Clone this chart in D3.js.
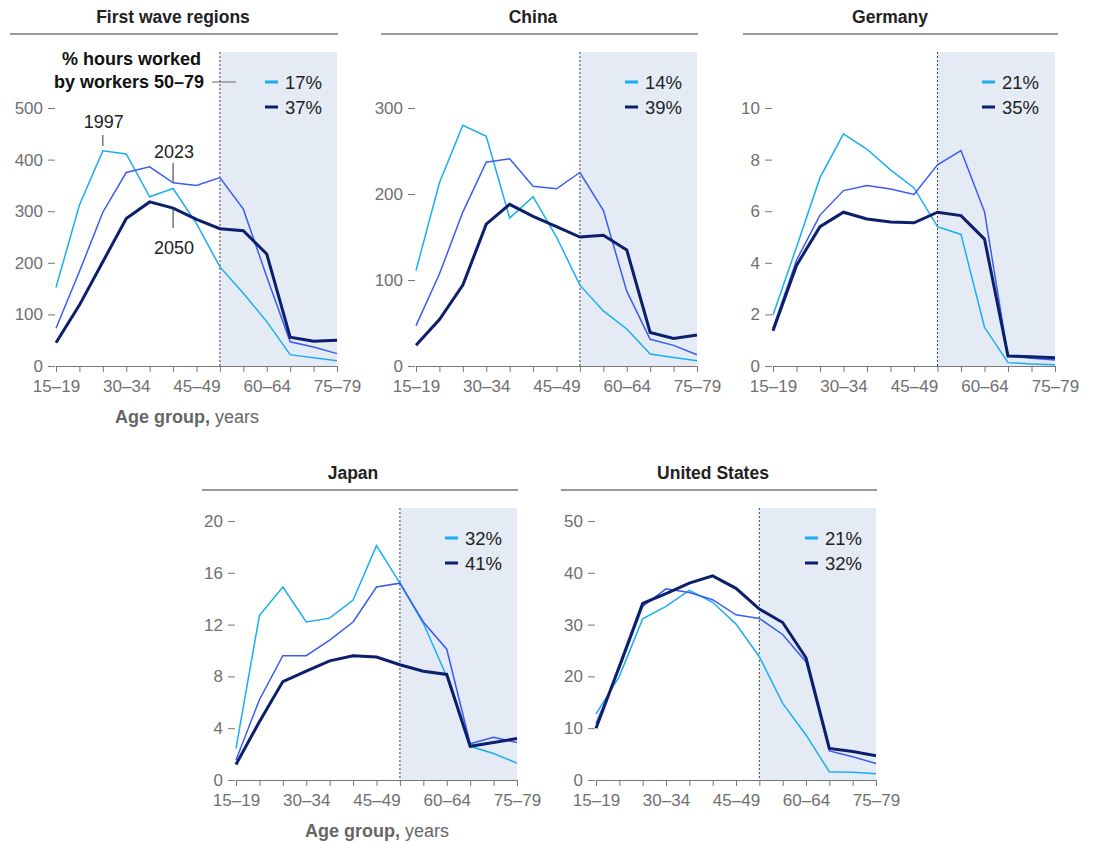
<!DOCTYPE html>
<html>
<head>
<meta charset="utf-8">
<script src="https://cdn.jsdelivr.net/npm/d3@7"></script>
<style>
  body { margin: 0; background: #fff; }
  text { font-family: "Liberation Sans", Arial, sans-serif; }
</style>
</head>
<body>
<script>
/* data */

var ageGroups = ['15–19', '20–24', '25–29', '30–34', '35–39', '40–44', '45–49',
  '50–54', '55–59', '60–64', '65–69', '70–74', '75–79'];
var tickAges = ['15–19', '30–34', '45–49', '60–64', '75–79'];
var years = ['1997', '2023', '2050'];

var firstWave1997 = [152, 312, 417, 411, 328, 344, 276, 192, 141, 86, 22, 16, 10];
var firstWave2023 = [73, 183, 298, 375, 386, 355, 350, 365, 304, 173, 47, 37, 24];
var firstWave2050 = [45, 118, 202, 286, 318, 306, 284, 266, 262, 217, 56, 48, 50];
var firstWaveTicks = [0, 100, 200, 300, 400, 500];
var firstWaveShares = ['17%', '37%'];

var china1997 = [111, 213, 280, 267, 172, 197, 150, 94, 64, 43, 14, 10, 6];
var china2023 = [47, 107, 179, 237, 241, 209, 206, 225, 181, 87, 31, 24, 13];
var china2050 = [24, 54, 94, 165, 188, 174, 162, 150, 152, 135, 39, 32, 36];
var chinaTicks = [0, 100, 200, 300];
var chinaShares = ['14%', '39%'];

var germany1997 = [1.98, 4.6, 7.3, 9.0, 8.4, 7.6, 6.9, 5.4, 5.1, 1.5, 0.13, 0.08, 0.05];
var germany2023 = [1.46, 4.1, 5.85, 6.8, 7.0, 6.86, 6.65, 7.8, 8.35, 5.98, 0.39, 0.3, 0.23];
var germany2050 = [1.37, 3.9, 5.4, 5.96, 5.7, 5.58, 5.55, 5.96, 5.83, 4.92, 0.39, 0.36, 0.32];
var germanyTicks = [0, 2, 4, 6, 8, 10];
var germanyShares = ['21%', '35%'];

var japan1997 = [2.45, 12.7, 14.9, 12.2, 12.5, 13.9, 18.1, 15.2, 12.1, 8.0, 2.6, 2.05, 1.3];
var japan2023 = [1.55, 6.2, 9.6, 9.6, 10.8, 12.2, 14.9, 15.2, 12.2, 10.1, 2.8, 3.3, 2.9];
var japan2050 = [1.2, 4.5, 7.6, 8.4, 9.2, 9.6, 9.5, 8.9, 8.4, 8.15, 2.6, 2.9, 3.2];
var japanTicks = [0, 4, 8, 12, 16, 20];
var japanShares = ['32%', '41%'];

var us1997 = [12.7, 20, 31.1, 33.5, 36.6, 34.3, 30.1, 23.8, 14.8, 8.7, 1.6, 1.5, 1.2];
var us2023 = [10.9, 21.5, 33.5, 36.9, 36.2, 34.8, 31.9, 31.2, 28.1, 22.8, 5.6, 4.5, 3.2];
var us2050 = [10, 21.9, 34.1, 36, 38, 39.4, 37, 33, 30.4, 23.6, 6.1, 5.5, 4.7];
var usTicks = [0, 10, 20, 30, 40, 50];
var usShares = ['21%', '32%'];


/* layout */

var width = 1093;
var height = 842;
var colours = { '1997': '#1aaef0', '2023': '#3a5cf2', '2050': '#0c1f6c' };
var strokeW = { '1997': 1.5, '2023': 1.5, '2050': 3 };
var shadeStart = '50–54';
var font = '"Liberation Sans", Arial, sans-serif';

// rows: rule line, top of shading, top tick, zero line
var topRow = { rule: 34, shade: 52, yTop: 108, yZero: 366 };
var bottomRow = { rule: 490, shade: 508, yTop: 521, yZero: 780 };

var panels = [
  { title: 'First wave regions', series: [firstWave1997, firstWave2023, firstWave2050], ticks: firstWaveTicks,
    shares: firstWaveShares, x0: 56, x1: 337, row: topRow, lineLeft: 10, axisTitle: true, titleStart: 115, notes: true },
  { title: 'China', series: [china1997, china2023, china2050], ticks: chinaTicks,
    shares: chinaShares, x0: 416, x1: 697, row: topRow, lineLeft: 381 },
  { title: 'Germany', series: [germany1997, germany2023, germany2050], ticks: germanyTicks,
    shares: germanyShares, x0: 773, x1: 1055, row: topRow, lineLeft: 743, lineRight: 1058 },
  { title: 'Japan', series: [japan1997, japan2023, japan2050], ticks: japanTicks,
    shares: japanShares, x0: 236, x1: 517, row: bottomRow, lineLeft: 202, axisTitle: true, titleStart: 305 },
  { title: 'United States', series: [us1997, us2023, us2050], ticks: usTicks,
    shares: usShares, x0: 596, x1: 876, row: bottomRow, lineLeft: 561 }
];

var svg = d3.select('body').append('svg')
  .attr('width', width)
  .attr('height', height);

panels.forEach(function (p) {
  var g = svg.append('g');
  var r = p.row;

  var x = d3.scalePoint().domain(ageGroups).range([p.x0, p.x1]);
  var y = d3.scaleLinear().domain([0, d3.max(p.ticks)]).range([r.yZero, r.yTop]);

  /* title + rule */
  g.append('text')
    .attr('x', p.x0 + 117)
    .attr('y', r.rule - 11)
    .attr('text-anchor', 'middle')
    .style('font-size', '17.5px')
    .style('font-weight', 'bold')
    .style('fill', '#222')
    .text(p.title);

  g.append('line')
    .attr('x1', p.lineLeft).attr('x2', p.lineRight || p.x1 + 1)
    .attr('y1', r.rule).attr('y2', r.rule)
    .attr('stroke', '#333').attr('stroke-width', 1.2);

  /* shaded 50-79 region */
  g.append('rect')
    .attr('x', x(shadeStart))
    .attr('y', r.shade)
    .attr('width', p.x1 - x(shadeStart))
    .attr('height', r.yZero - r.shade)
    .attr('fill', '#e4ebf4');

  g.append('line')
    .attr('x1', x(shadeStart)).attr('x2', x(shadeStart))
    .attr('y1', r.shade).attr('y2', r.yZero)
    .attr('stroke', '#444').attr('stroke-width', 1)
    .attr('stroke-dasharray', '2,2');

  /* y axis */
  var yAxis = d3.axisLeft(y).tickValues(p.ticks).tickSize(7).tickPadding(5);
  var ya = g.append('g')
    .attr('transform', 'translate(' + (p.x0 - 1) + ',0)')
    .call(yAxis);
  ya.select('.domain').remove();
  ya.selectAll('line').attr('stroke', '#777');
  ya.selectAll('text').style('font-size', '17px').style('fill', '#707070')
    .style('font-family', font);

  /* x axis */
  var xAxis = d3.axisBottom(x).tickSize(6).tickPadding(8).tickSizeOuter(0)
    .tickFormat(function (d) { return tickAges.indexOf(d) >= 0 ? d : ''; });
  var xa = g.append('g')
    .attr('transform', 'translate(0,' + r.yZero + ')')
    .call(xAxis);
  xa.select('.domain').attr('stroke', '#777');
  xa.selectAll('line').attr('stroke', '#777');
  xa.selectAll('text').style('font-size', '17px').style('fill', '#707070')
    .style('font-family', font);

  /* lines */
  var line = d3.line()
    .x(function (d, i) { return x(ageGroups[i]); })
    .y(function (d) { return y(d); });

  p.series.forEach(function (s, i) {
    g.append('path')
      .datum(s)
      .attr('d', line)
      .attr('fill', 'none')
      .attr('stroke', colours[years[i]])
      .attr('stroke-width', strokeW[years[i]])
      .attr('stroke-linejoin', 'miter');
  });

  /* legend */
  var legendYears = ['1997', '2050'];
  p.shares.forEach(function (s, i) {
    var ly = r.shade + 30 + i * 25;
    g.append('line')
      .attr('x1', p.x0 + 209).attr('x2', p.x0 + 222)
      .attr('y1', ly).attr('y2', ly)
      .attr('stroke', colours[legendYears[i]])
      .attr('stroke-width', 3);
    g.append('text')
      .attr('x', p.x0 + 229)
      .attr('y', ly + 6.5)
      .style('font-size', '18.5px')
      .style('fill', '#222')
      .text(s);
  });

  /* x axis title */
  if (p.axisTitle) {
    var t = g.append('text')
      .attr('x', p.titleStart)
      .attr('y', r.yZero + 57)
      .style('font-size', '18px')
      .style('fill', '#666');
    t.append('tspan').style('font-weight', 'bold').text('Age group,');
    t.append('tspan').text(' years');
  }

  /* annotations for first panel */
  if (p.notes) {
    var hdr = g.append('text')
      .attr('text-anchor', 'end')
      .style('font-size', '18px')
      .style('font-weight', 'bold')
      .style('fill', '#111');
    hdr.append('tspan').attr('x', 201).attr('y', 65).text('% hours worked');
    hdr.append('tspan').attr('x', 204).attr('y', 88).text('by workers 50–79');

    g.append('line')
      .attr('x1', 212).attr('x2', 236)
      .attr('y1', r.shade + 30).attr('y2', r.shade + 30)
      .attr('stroke', '#666').attr('stroke-width', 1);

    var notes = [
      { label: '1997', age: '25–29', ty: 128, l1: 135, l2: 146 },
      { label: '2023', age: '40–44', ty: 158, l1: 163, l2: 182 },
      { label: '2050', age: '40–44', ty: 254, l1: 208, l2: 228 }
    ];
    notes.forEach(function (n) {
      g.append('text')
        .attr('x', x(n.age) + 1)
        .attr('y', n.ty)
        .attr('text-anchor', 'middle')
        .style('font-size', '18px')
        .style('fill', '#222')
        .text(n.label);
      g.append('line')
        .attr('x1', x(n.age)).attr('x2', x(n.age))
        .attr('y1', n.l1).attr('y2', n.l2)
        .attr('stroke', '#333').attr('stroke-width', 1);
    });
  }
});
</script>
</body>
</html>
